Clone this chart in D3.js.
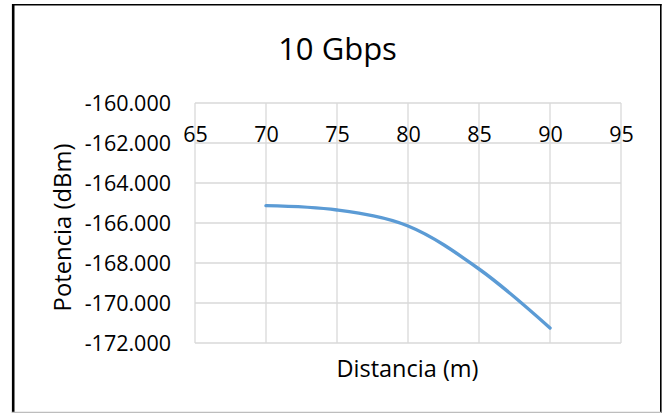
<!DOCTYPE html>
<html>
<head>
<meta charset="utf-8">
<script src="https://cdn.jsdelivr.net/npm/d3@7"></script>
<style>
  html, body { margin: 0; padding: 0; background: #fff; }
  svg { display: block; font-family: "Open Sans", sans-serif; }
</style>
</head>
<body>
<svg id="chart" width="663" height="413"></svg>
<script>
// Received power vs. link distance at 10 Gbps
const distances = [70, 75, 80, 85, 90];
const power = [-165.13, -165.35, -166.15, -168.3, -171.25];
const xTicks = [65, 70, 75, 80, 85, 90, 95];
const yTicks = [-160, -162, -164, -166, -168, -170, -172];
const chartTitle = "10 Gbps";
const xTitle = "Distancia (m)";
const yTitle = "Potencia (dBm)";

const svg = d3.select("#chart");
const plot = { left: 195, right: 621, top: 103, bottom: 343 };

const x = d3.scaleLinear().domain([65, 95]).range([plot.left, plot.right]);
const y = d3.scaleLinear().domain([-172, -160]).range([plot.bottom, plot.top]);

// hyphen-minus instead of the Unicode minus sign
const locale = d3.formatLocale({ decimal: ".", thousands: ",", grouping: [3], currency: ["", ""], minus: "-" });
const fmtY = locale.format(".3f");

// frame around the chart area
const frame = svg.append("g");
frame.append("line").attr("x1", 13.2).attr("x2", 13.2).attr("y1", 4).attr("y2", 413)
  .attr("stroke", "#000").attr("stroke-width", 2.6);
frame.append("line").attr("x1", 12).attr("x2", 661.5).attr("y1", 4.8).attr("y2", 4.8)
  .attr("stroke", "#000").attr("stroke-width", 1.6);
frame.append("line").attr("x1", 660.8).attr("x2", 660.8).attr("y1", 4).attr("y2", 413)
  .attr("stroke", "#000").attr("stroke-width", 1.6);
frame.append("line").attr("x1", 12).attr("x2", 661.5).attr("y1", 412.3).attr("y2", 412.3)
  .attr("stroke", "#bdbdbd").attr("stroke-width", 1.2);

// gridlines
const grid = svg.append("g").attr("stroke", "#d9d9d9").attr("stroke-width", 1.3);
grid.selectAll("line.h").data(yTicks).join("line").attr("class", "h")
  .attr("x1", plot.left).attr("x2", plot.right)
  .attr("y1", d => y(d)).attr("y2", d => y(d));
grid.selectAll("line.v").data(xTicks).join("line").attr("class", "v")
  .attr("y1", plot.top).attr("y2", plot.bottom)
  .attr("x1", d => x(d)).attr("x2", d => x(d));

// y axis labels
const yAxis = svg.append("g").attr("transform", `translate(${plot.left},0)`)
  .call(d3.axisLeft(y).tickValues(yTicks).tickFormat(fmtY).tickSize(0).tickPadding(24));
yAxis.select(".domain").remove();
yAxis.attr("font-family", null).attr("font-size", null);
yAxis.selectAll("text").style("font-family", "'Open Sans'").style("font-size", "21.5px")
  .attr("fill", "#000").attr("dy", "0.36em");

// x axis labels just under the top edge
const xAxis = svg.append("g").attr("transform", `translate(0,${plot.top})`)
  .call(d3.axisBottom(x).tickValues(xTicks).tickFormat(d => String(d)).tickSize(0).tickPadding(0));
xAxis.select(".domain").remove();
xAxis.attr("font-family", null).attr("font-size", null);
xAxis.selectAll("text").style("font-family", "'Open Sans'").style("font-size", "21.5px")
  .attr("fill", "#000").attr("dy", null).attr("y", 39.3);

// series line
const line = d3.line().x((d, i) => x(distances[i])).y(d => y(d)).curve(d3.curveCatmullRom.alpha(0.5));
svg.append("path").datum(power)
  .attr("d", line).attr("fill", "none")
  .attr("stroke", "#5b9bd5").attr("stroke-width", 3.4).attr("stroke-linecap", "round");

// titles
svg.append("text").attr("x", 337.5).attr("y", 60).attr("text-anchor", "middle")
  .attr("font-size", 31).attr("fill", "#000").text(chartTitle);
svg.append("text").attr("x", 407.5).attr("y", 376.7).attr("text-anchor", "middle")
  .attr("font-size", 23.5).attr("fill", "#000").text(xTitle);
svg.append("text").attr("transform", "translate(70.5,227.5) rotate(-90)").attr("text-anchor", "middle")
  .attr("font-size", 23.8).attr("fill", "#000").text(yTitle);
</script>
</body>
</html>
